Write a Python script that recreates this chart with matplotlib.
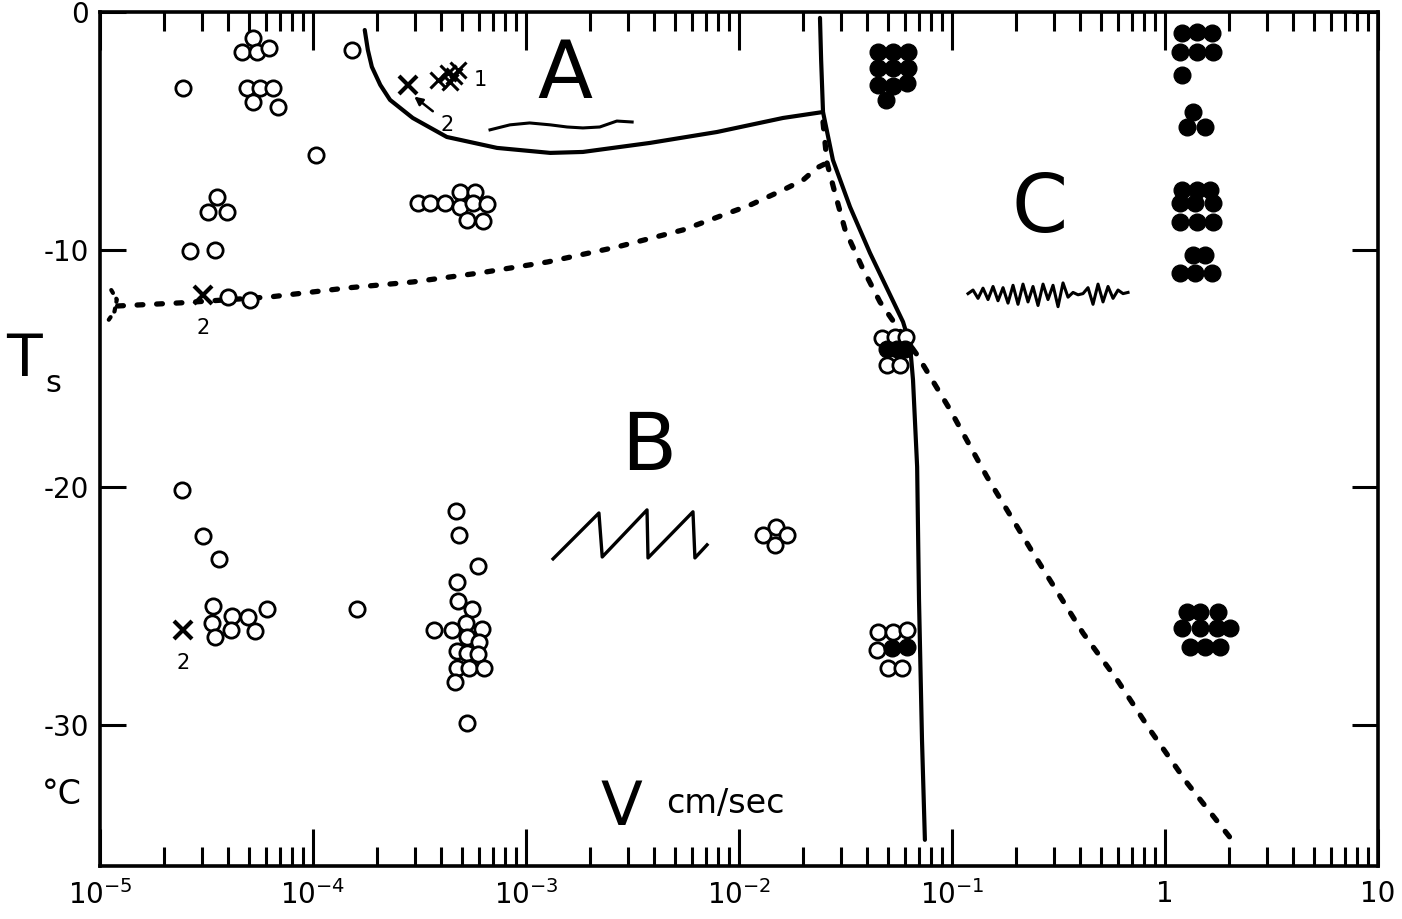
import numpy as np
import matplotlib
matplotlib.use("Agg")
import matplotlib.pyplot as plt
from matplotlib.ticker import FixedLocator, LogLocator, NullFormatter

plt.rcParams['font.family'] = ['DejaVu Sans']
plt.rcParams['mathtext.default'] = 'regular'

# ---- data: V in cm/sec, Ts in degC ----

# open circles
open_v = [2.45e-5, 5.22e-5, 4.65e-5, 5.46e-5, 6.21e-5, 4.90e-5, 5.64e-5, 6.49e-5, 5.22e-5, 6.86e-5,
          1.52e-4, 1.03e-4, 3.54e-5, 3.21e-5, 3.94e-5, 2.65e-5, 3.47e-5, 3.99e-5, 5.06e-5,
          3.11e-4, 3.54e-4, 4.17e-4, 4.90e-4, 5.77e-4, 4.90e-4, 5.64e-4, 6.56e-4, 5.28e-4, 6.28e-4,
          2.43e-5, 3.05e-5, 3.62e-5, 3.40e-5, 3.36e-5, 3.47e-5, 4.17e-5, 4.12e-5, 4.95e-5, 5.35e-5, 6.08e-5,
          1.61e-4,
          4.69e-4, 4.84e-4, 5.96e-4, 4.74e-4, 4.80e-4, 5.57e-4, 3.70e-4, 4.50e-4, 5.22e-4, 6.21e-4,
          5.28e-4, 6.01e-4, 4.74e-4, 5.28e-4, 5.96e-4, 4.74e-4, 5.40e-4, 6.35e-4, 4.65e-4, 5.28e-4,
          1.30e-2, 1.49e-2, 1.68e-2, 1.48e-2,
          4.69e-2, 5.40e-2, 6.08e-2, 4.95e-2, 5.70e-2,
          4.50e-2, 5.28e-2, 6.15e-2, 4.45e-2, 5.01e-2, 5.82e-2]
open_t = [-3.2, -1.1, -1.7, -1.7, -1.5, -3.2, -3.2, -3.2, -3.8, -4.0,
          -1.6, -6.0, -7.8, -8.4, -8.4, -10.05, -10.0, -12.0, -12.1,
          -8.04, -8.04, -8.04, -7.57, -7.57, -8.2, -8.04, -8.08, -8.75, -8.79,
          -20.1, -22.05, -23.0, -25.0, -25.7, -26.3, -25.4, -26.0, -25.45, -26.04, -25.1,
          -25.1,
          -21.0, -22.0, -23.3, -24.0, -24.8, -25.1, -26.0, -26.0, -25.7, -25.96,
          -26.3, -26.5, -26.9, -26.97, -27.0, -27.6, -27.6, -27.6, -28.2, -29.9,
          -22.0, -21.67, -22.0, -22.42,
          -13.7, -13.67, -13.67, -14.85, -14.85,
          -26.1, -26.08, -26.0, -26.84, -27.6, -27.6]

# filled circles
fill_v = [4.50e-2, 5.28e-2, 6.21e-2, 4.50e-2, 5.28e-2, 6.21e-2, 4.50e-2, 5.28e-2, 6.15e-2, 4.90e-2,
          4.95e-2, 5.52e-2, 6.01e-2, 5.22e-2, 6.15e-2,
          1.20, 1.41, 1.66, 1.175, 1.41, 1.68, 1.20,
          1.35, 1.27, 1.54,
          1.20, 1.41, 1.63, 1.175, 1.38, 1.68, 1.175, 1.41, 1.68, 1.35, 1.54, 1.175, 1.38, 1.66,
          1.27, 1.46, 1.77, 1.20, 1.46, 1.75, 2.02, 1.31, 1.54, 1.81]
fill_t = [-1.68, -1.68, -1.68, -2.36, -2.36, -2.36, -3.07, -3.11, -2.99, -3.7,
          -14.2, -14.2, -14.2, -26.76, -26.7,
          -0.88, -0.84, -0.88, -1.68, -1.68, -1.68, -2.65,
          -4.2, -4.84, -4.84,
          -7.49, -7.49, -7.49, -8.04, -8.04, -8.04, -8.83, -8.83, -8.83, -10.22, -10.22, -10.98, -10.98, -10.98,
          -25.24, -25.24, -25.24, -25.9, -25.9, -25.9, -25.9, -26.7, -26.7, -26.7]

# crosses (labelled 2) and the hatched group (labelled 1)
cross_v = [3.05e-5, 2.79e-4, 2.45e-5]
cross_t = [-11.9, -3.07, -26.0]
hatch_v = [3.86e-4, 4.31e-4, 4.80e-4, 4.40e-4, 4.60e-4]
hatch_t = [-2.86, -2.57, -2.44, -2.95, -2.7]

# boundary of region A (solid)
bound_a_v = [1.75e-4, 1.81e-4, 1.89e-4, 2.07e-4, 2.30e-4, 2.94e-4, 4.25e-4, 7.31e-4, 1.30e-3,
             1.85e-3, 3.82e-3, 7.89e-3, 1.61e-2, 2.48e-2]
bound_a_t = [-0.76, -1.6, -2.31, -3.07, -3.7, -4.46, -5.26, -5.72, -5.93,
             -5.89, -5.51, -5.05, -4.46, -4.21]

# boundary of region C (solid)
bound_c_v = [2.40e-2, 2.43e-2, 2.48e-2, 2.76e-2, 3.32e-2, 4.12e-2, 5.89e-2, 6.35e-2, 6.56e-2,
             6.86e-2, 7.00e-2, 7.23e-2, 7.46e-2]
bound_c_t = [-0.25, -2.02, -4.21, -6.23, -8.2, -10.14, -13.04, -14.0, -15.48,
             -19.14, -24.74, -30.63, -34.83]

# dashed curve from the left
dash_l_v = [1.21e-5, 2.38e-5, 6.28e-5, 1.45e-4, 2.94e-4, 6.08e-4, 1.26e-3, 2.67e-3, 5.46e-3,
            1.13e-2, 1.61e-2, 2.00e-2, 2.32e-2, 2.59e-2]
dash_l_t = [-12.37, -12.24, -11.99, -11.61, -11.36, -10.98, -10.52, -9.89, -9.17,
            -8.12, -7.49, -7.07, -6.56, -6.35]
hook_v = [1.13e-5, 1.20e-5, 1.17e-5, 1.10e-5]
hook_t = [-11.7, -12.1, -12.6, -12.95]

# dashed curve going down to the right
dash_r_v = [2.48e-2, 2.59e-2, 2.82e-2, 3.15e-2, 3.78e-2, 4.59e-2, 5.57e-2, 6.86e-2, 9.80e-2,
            0.146, 0.240, 0.412, 0.596, 0.851, 1.27, 2.06]
dash_r_t = [-4.63, -6.35, -7.61, -9.17, -10.73, -12.2, -13.29, -14.43, -16.74,
            -19.56, -22.76, -26.13, -28.1, -30.21, -32.44, -34.83]

# sketch traces in each region
wave_a_v = [6.78e-4, 8.41e-4, 1.04e-3, 1.30e-3, 1.56e-3, 1.85e-3, 2.22e-3, 2.67e-3, 3.15e-3]
wave_a_t = [-4.96, -4.75, -4.67, -4.75, -4.84, -4.88, -4.84, -4.59, -4.63]
saw_b_v = [1.34e-3, 2.20e-3, 2.28e-3, 3.70e-3, 3.74e-3, 6.08e-3, 6.21e-3, 7.08e-3]
saw_b_t = [-23.01, -21.08, -22.93, -20.95, -22.97, -21.03, -22.97, -22.42]
noise_c_v = [0.1189, 0.1255, 0.1325, 0.1398, 0.1476, 0.1558, 0.1644, 0.1736, 0.1832, 0.1934,
             0.2041, 0.2154, 0.2274, 0.2400, 0.2534, 0.2675, 0.2823, 0.2980, 0.3146, 0.3320,
             0.3505, 0.3700, 0.3905, 0.4121, 0.4350, 0.4592, 0.4847, 0.5116, 0.5401, 0.5701,
             0.6017, 0.6352, 0.6704]
noise_c_t = [-11.85, -11.70, -12.05, -11.62, -12.10, -11.55, -12.15, -11.60, -12.25, -11.50,
             -12.30, -11.45, -12.20, -11.55, -12.35, -11.45, -12.10, -11.50, -12.40, -11.40,
             -12.00, -11.80, -11.90, -11.85, -11.60, -12.30, -11.45, -12.20, -11.55, -12.05,
             -11.70, -11.85, -11.80]

xtick_vals = [1e-5, 1e-4, 1e-3, 1e-2, 1e-1, 1, 10]
xtick_labels = ['$10^{-5}$', '$10^{-4}$', '$10^{-3}$', '$10^{-2}$', '$10^{-1}$', '1', '10']
ytick_vals = [0, -10, -20, -30]

# ---- plot ----
fig = plt.figure(figsize=(14.02, 9.19), dpi=100)
ax = fig.add_axes([0.0713, 0.0577, 0.9116, 0.9293])

lw = 3.0
ax.plot(bound_a_v, bound_a_t, color='black', lw=lw, solid_capstyle='round', zorder=2)
ax.plot(bound_c_v, bound_c_t, color='black', lw=lw, solid_capstyle='round', zorder=2)
ax.plot(dash_l_v, dash_l_t, color='black', lw=3.8, dashes=(1.1, 2.6),
        dash_capstyle='round', zorder=2)
ax.plot(hook_v, hook_t, color='black', lw=3.0, dashes=(0.8, 1.6),
        dash_capstyle='round', zorder=2)
ax.plot(dash_r_v, dash_r_t, color='black', lw=3.8, dashes=(1.3, 2.6),
        dash_capstyle='round', zorder=2)

ax.plot(wave_a_v, wave_a_t, color='black', lw=2.2, zorder=2)
ax.plot(saw_b_v, saw_b_t, color='black', lw=2.4, zorder=2)
ax.plot(noise_c_v, noise_c_t, color='black', lw=2.2, zorder=2)

ax.plot(open_v, open_t, 'o', ms=11, mfc='white', mec='black', mew=2.0, zorder=3)
ax.plot(fill_v, fill_t, 'o', ms=12, mfc='black', mec='black', mew=1.0, zorder=4)
ax.plot(cross_v, cross_t, 'x', ms=13, mec='black', mew=3.0, zorder=4)
ax.plot(hatch_v, hatch_t, 'x', ms=12, mec='black', mew=2.2, zorder=4)

# labels next to the crosses
ax.text(3.05e-5, -13.3, '2', fontsize=15, ha='center', va='center')
ax.text(2.45e-5, -27.4, '2', fontsize=15, ha='center', va='center')
ax.text(4.25e-4, -4.75, '2', fontsize=15, ha='center', va='center')
ax.text(6.08e-4, -2.86, '1', fontsize=15, ha='center', va='center')
ax.annotate('', xy=(2.92e-4, -3.49), xytext=(3.74e-4, -4.25),
            arrowprops=dict(arrowstyle='-|>', color='black', lw=1.8, mutation_scale=12))

# region letters
ax.text(1.52e-3, -2.7, 'A', fontsize=58, ha='center', va='center')
ax.text(3.78e-3, -18.34, 'B', fontsize=58, ha='center', va='center')
ax.text(0.259, -8.33, 'C', fontsize=58, ha='center', va='center')

# axis titles drawn inside / beside the frame
ax.text(2.82e-3, -33.5, 'V', fontsize=44, ha='center', va='center')
ax.text(8.6e-3, -33.3, 'cm/sec', fontsize=24, ha='center', va='center')
fig.text(24 / 1402, 1 - 360 / 919, 'T', fontsize=42, ha='center', va='center')
fig.text(53 / 1402, 1 - 384 / 919, 's', fontsize=22, ha='center', va='center')
fig.text(62 / 1402, 1 - 795 / 919, '°C', fontsize=24, ha='center', va='center')

# axes
ax.set_xscale('log')
ax.set_xlim(1e-5, 10)
ax.set_ylim(-35.93, 0)
ax.xaxis.set_major_locator(FixedLocator(xtick_vals))
ax.set_xticklabels(xtick_labels)
ax.xaxis.set_minor_locator(LogLocator(base=10, subs=range(2, 10), numticks=20))
ax.xaxis.set_minor_formatter(NullFormatter())
ax.set_yticks(ytick_vals)
ax.set_yticklabels(['0', '-10', '-20', '-30'])

ax.tick_params(axis='x', which='major', direction='in', length=27, width=2.2,
               top=True, bottom=True, labelsize=20, pad=10)
ax.tick_params(axis='x', which='minor', direction='in', length=14, width=2.2,
               top=True, bottom=True)
ax.tick_params(axis='y', which='major', direction='in', length=19, width=2.2,
               left=True, right=True, labelsize=20, pad=8)
for s in ax.spines.values():
    s.set_linewidth(2.6)

fig.savefig('out.png', dpi=100)
